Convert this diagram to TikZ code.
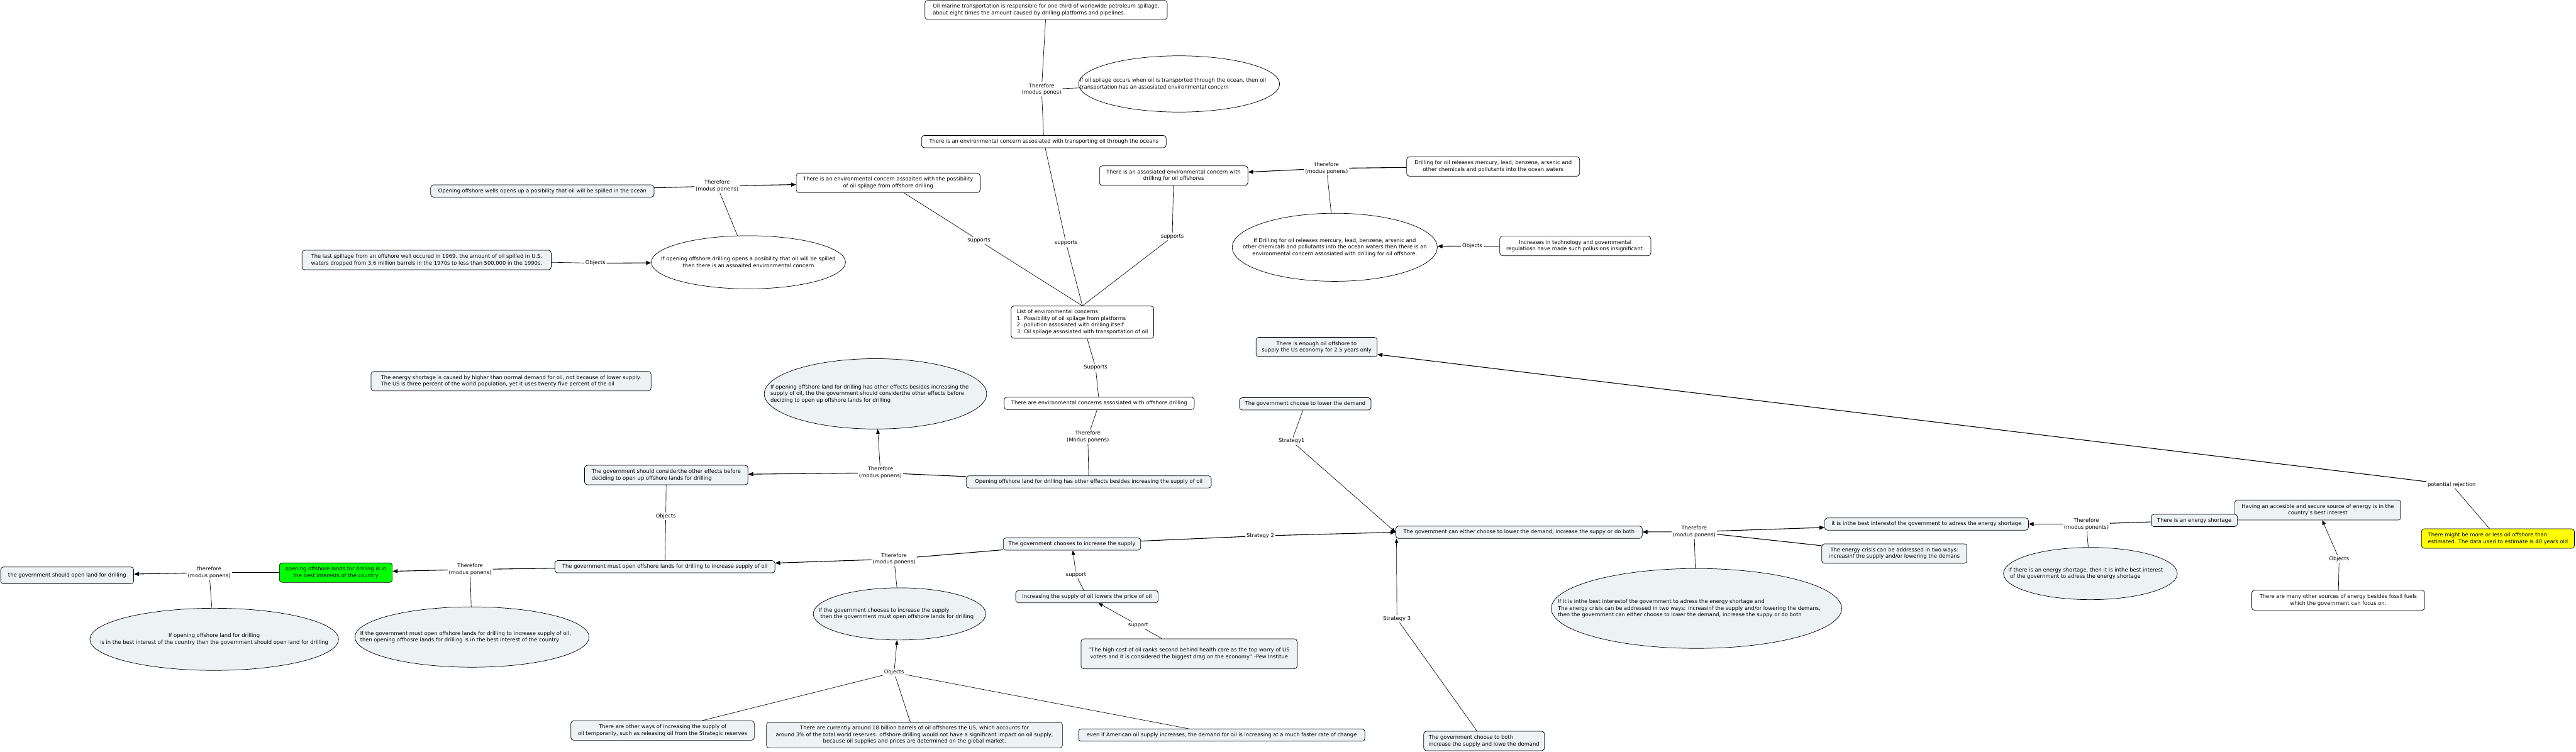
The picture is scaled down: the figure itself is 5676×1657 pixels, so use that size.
\documentclass[tikz,border=0pt]{standalone}
\usepackage{fontspec}
\setmainfont{DejaVu Sans}
\usetikzlibrary{arrows.meta,shapes.geometric}
\definecolor{lightfill}{HTML}{EDF3F5}
\definecolor{greenfill}{HTML}{00FF00}
\definecolor{yellowfill}{HTML}{FFFF00}
\tikzset{
  base/.style={font=\fontsize{11.6}{14.6}\selectfont},
  box/.style={base, draw=black, line width=1pt, rounded corners=6pt, inner sep=0pt, align=center},
  wbox/.style={box, fill=white},
  lbox/.style={box, fill=lightfill},
  sz/.style 2 args={minimum width=#1pt, minimum height=#2pt},
  ell/.style={draw=black, line width=1pt, ellipse, inner sep=0pt},
  etext/.style={base, align=left, anchor=west, inner sep=0pt},
  ctext/.style={base, align=center, inner sep=0pt},
  lab/.style={base, align=center, inner sep=2.5pt},
  conn/.style={line width=0.9pt},
  tconn/.style={line width=1.5pt},
  arr/.style={conn, -{Triangle[length=10pt,width=8pt]}},
  tarr/.style={tconn, -{Triangle[length=11pt,width=9pt]}},
}
\begin{document}
\begin{tikzpicture}[x=1pt,y=-1pt]
\useasboundingbox (0,0) rectangle (5676,1657);
\fill[white] (0,0) rectangle (5676,1657);

% ---------- top area ----------
\node[wbox, sz={534}{42}, align=left] (oilmarine) at (2305,22) {Oil marine transportation is responsible for one-third of worldwide petroleum spillage,\\ about eight times the amount caused by drilling platforms and pipelines.};
\node[ell, fill=white, sz={443}{124}] (ifoilspill) at (2598,185) {};
\node[etext] (ifoilspill-t) at ([xshift=3pt]ifoilspill.west) {If oil spilage occurs when oil is transported through the ocean, then oil\\transportation has an assosiated environmental concern};
\node[lab] (t1) at (2295,197) {Therefore\\(modus pones)};
\node[wbox, sz={539}{27}] (transport) at (2300,312) {There is an environmental concern assosiated with transporting oil through the oceans};

\node[lbox, sz={492}{27}] (openwells) at (1195,421) {Opening offshore wells opens up a posibility that oil will be spilled in the ocean};
\node[lab] (t2) at (1580,410) {Therefore\\(modus ponens)};
\node[wbox, sz={405}{43}] (concposs) at (1957,403) {There is an environmental concern assoaited with the possibility\\of oil spilage from offshore drilling};
\node[ell, fill=white, sz={428}{117}] (ifopendrill) at (1649,578) {};
\node[ctext] (ifopendrill-t) at (ifopendrill) {If opening offshore drilling opens a posibility that oil will be spilled\\then there is an assoaited environmental concern};
\node[lbox, sz={549}{43}, align=left] (lastspill) at (940,573) {The last spillage from an offshore well occured in 1969. the amount of oil spilled in U.S.\\waters dropped from 3.6 million barrels in the 1970s to less than 500,000 in the 1990s.};
\node[lab] (o1) at (1312,580) {Objects};

\node[wbox, sz={327}{43}] (assoc) at (2586,387) {There is an assosiated environmental concern with\\drilling for oil offshores};
\node[lab] (t3) at (2923,371) {therefore\\(modus ponens)};
\node[wbox, sz={381}{43}] (drillrel) at (3290,367) {Drilling for oil releases mercury, lead, benzene, arsenic and\\other chemicals and pollutants into the ocean waters};
\node[ell, fill=white, sz={452}{150}] (ifdrill) at (2941,545) {};
\node[ctext] (ifdrill-t) at (ifdrill) {If Drilling for oil releases mercury, lead, benzene, arsenic and\\other chemicals and pollutants into the ocean waters then there is an\\environmental concern assosiated with drilling for oil offshore.};
\node[lab] (o2) at (3244,542) {Objects};
\node[wbox, sz={333}{43}] (tech) at (3471,542) {Increases in technology and governmental\\regulatiosn have made such pollusions insignificant.};

\node[lab] (s1) at (2157,530) {supports};
\node[lab] (s2) at (2349,536) {supports};
\node[lab] (s3) at (2583,522) {supports};
\node[wbox, sz={314}{71}, align=left] (list) at (2385,710) {List of environmental concerns:\\1. Possibility of oil spilage from platforms\\2. pollution assosiated with drilling itself\\3. Oil spilage assosiated with transportation of oil};
\node[lab] (sup) at (2414,810) {Supports};
\node[wbox, sz={419}{27}] (envconc) at (2422,889) {There are environmental concerns assosiated with offshore drilling};
\node[lab] (t4) at (2397,963) {Therefore\\(Modus ponens)};
\node[lbox, sz={540}{27}] (otheff) at (2399,1062) {Opening offshore land for drilling has other effects besides increasing the supply of oil};
\node[lab] (t5) at (1940,1042) {Therefore\\(modus ponens)};
\node[ell, fill=lightfill, sz={490}{155}] (ifotheff) at (1929,868) {};
\node[etext] (ifotheff-t) at ([xshift=14pt]ifotheff.west) {If opening offshore land for drilling has other effects besides increasing the\\supply of oil, the the government should considerthe other effects before\\deciding to open up offshore lands for drilling};
\node[lbox, sz={360}{43}, align=left] (consider) at (1468,1047) {The government should considerthe other effects before\\deciding to open up offshore lands for drilling};
\node[lbox, sz={617}{43}, align=left] (shortcause) at (1126,840) {The energy shortage is caused by higher than normal demand for oil, not because of lower supply.\\The US is three percent of the world population, yet it uses twenty five percent of the oil};

% ---------- bottom left ----------
\node[lab] (o3) at (1467,1138) {Objects};
\node[lbox, sz={485}{27}] (mustopen) at (1465,1249) {The government must open offshore lands for drilling to increase supply of oil};
\node[lab] (t6) at (1036,1255) {Therefore\\(modus ponens)};
\node[box, fill=greenfill, sz={249}{43}] (green) at (740,1262) {opening offshore lands for drilling is in\\the best interests of the country};
\node[lab] (t7) at (461,1262) {therefore\\(modus ponens)};
\node[lbox, sz={293}{37}] (shouldopen) at (148,1268) {the government should open land for drilling};
\node[ell, fill=lightfill, sz={548}{137}] (ifbest) at (472,1409) {};
\node[ctext] (ifbest-t) at (ifbest) {If opening offshore land for drilling\\is in the best interest of the country then the government should open land for drilling};
\node[ell, fill=lightfill, sz={516}{133}] (ifmust) at (1040,1404) {};
\node[etext] (ifmust-t) at ([xshift=12pt]ifmust.west) {If the government must open offshore lands for drilling to increase supply of oil,\\then opening offhosre lands for drilling is in the best interest of the country};
\node[lbox, sz={404}{43}] (otherways) at (1460,1610) {There are other ways of increasing the supply of\\oil temporarily, such as releasing oil from the Strategic reserves};

% ---------- bottom middle ----------
\node[lbox, sz={303}{27}] (incsupply) at (2362,1199) {The government chooses to increase the supply};
\node[lab] (t8) at (1970,1232) {Therefore\\(modus ponens)};
\node[ell, fill=lightfill, sz={380}{115}] (ifchoose) at (1982,1353) {};
\node[etext] (ifchoose-t) at ([xshift=12pt]ifchoose.west) {If the government chooses to increase the supply\\\ then the government must open offshore lands for drilling};
\node[lab] (o4) at (1970,1482) {Objects};
\node[lbox, sz={652}{57}] (currently) at (2015,1620) {There are currently around 18 billion barrels of oil offshores the US, which accounts for\\around 3\% of the total world reserves. offshore drilling would not have a significant impact on oil supply,\\because oil supplies and prices are determined on the global market.};
\node[lbox, sz={631}{27}] (evenif) at (2692,1620) {even if American oil supply increases, the demand for oil is increasing at a much faster rate of change};
\node[lbox, sz={314}{27}] (lowers) at (2395,1315) {Increasing the supply of oil lowers the price of oil};
\node[lab] (sp1) at (2371,1267) {support};
\node[lab] (sp2) at (2508,1378) {support};
\node[lbox, sz={476}{66}] (highcost) at (2620,1441) {"The high cost of oil ranks second behind health care as the top worry of US\\voters and it is considered the biggest drag on the economy" -Pew Institue};

% ---------- strategies ----------
\node[lab] (st2) at (2777,1181) {Strategy 2};
\node[lbox, sz={543}{27}] (either) at (3347,1173) {The government can either choose to lower the demand, increase the suppy or do both};
\node[lab] (st3) at (3078,1364) {Strategy 3};
\node[lbox, sz={266}{43}, align=left] (both) at (3270,1633) {The government choose to both\\increase the supply and lowe the demand};
\node[lab] (st1) at (2846,972) {Strategy1};
\node[lbox, sz={290}{27}] (lower) at (2876,890) {The government choose to lower the demand};
\node[lbox, sz={267}{43}] (enough) at (2901,765) {There is enough oil offshore to\\supply the Us economy for 2.5 years only};

% ---------- right ----------
\node[lab] (t9) at (3733,1172) {Therefore\\(modus ponens)};
\node[lbox, sz={449}{27}] (bestint) at (4245,1155) {it is inthe best interestof the government to adress the energy shortage};
\node[lbox, sz={320}{43}] (crisis) at (4174,1220) {The energy crisis can be addressed in two ways:\\increasinf the supply and/or lowering the demans};
\node[ell, fill=lightfill, sz={640}{176}] (ifit) at (3738,1341) {};
\node[etext] (ifit-t) at ([xshift=15pt]ifit.west) {If it is inthe best interestof the government to adress the energy shortage and\\The energy crisis can be addressed in two ways: increasinf the supply and/or lowering the demans,\\then the government can either choose to lower the demand, increase the suppy or do both};
\node[lab] (t10) at (4597,1155) {Therefore\\(modus ponents)};
\node[lbox, sz={366}{44}] (having) at (5107,1124) {Having an accesible and secure source of energy is in the\\country's best interest};
\node[lbox, sz={190}{27}] (shortage) at (4835,1147) {There is an energy shortage};
\node[lab] (o5) at (5154,1232) {Objects};
\node[wbox, sz={381}{44}] (sources) at (5152,1323) {There are many other sources of energy besides fossil fuels\\which the government can focus on.};
\node[ell, fill=lightfill, sz={383}{115}] (ifthere) at (4606,1264) {};
\node[etext] (ifthere-t) at ([xshift=11pt]ifthere.west) {If there is an energy shortage, then it is inthe best interest\\\ of the government to adress the energy shortage};
\node[box, fill=yellowfill, sz={337}{43}, align=left] (yellow) at (5504,1187) {There might be more  or less oil offshore than\\estimated.  The data used to estimate is 40 years old};
\node[lab] (pr) at (5402,1068) {potential rejection};

% ---------- connectors ----------
\draw[conn] (oilmarine) -- (t1);
\draw[conn] (ifoilspill) -- (t1);
\draw[conn] (t1) -- (transport);
\draw[tconn] (openwells) -- (t2);
\draw[tarr] (t2) -- (concposs);
\draw[conn] (t2) -- (ifopendrill);
\draw[conn] (lastspill) -- (o1);
\draw[tarr] (o1) -- (ifopendrill);
\draw[conn] (concposs) -- (s1);
\draw[conn] (s1) -- (list.north);
\draw[conn] (transport) -- (s2);
\draw[conn] (s2) -- (list.north);
\draw[conn] (assoc) -- (s3);
\draw[conn] (s3) -- (list.north);
\draw[tconn] (drillrel) -- (t3);
\draw[tarr] (t3) -- (assoc);
\draw[conn] (t3) -- (ifdrill);
\draw[tconn] (tech) -- (o2);
\draw[tarr] (o2) -- (ifdrill);
\draw[conn] (list) -- (sup);
\draw[conn] (sup) -- (envconc);
\draw[conn] (envconc) -- (t4);
\draw[conn] (t4) -- (otheff);
\draw[tconn] (otheff) -- (t5);
\draw[tarr] (t5) -- (consider);
\draw[arr] (t5) -- (ifotheff);
\draw[conn] (consider) -- (o3);
\draw[conn] (o3) -- (mustopen);
\draw[tconn] (incsupply) -- (t8);
\draw[tarr] (t8) -- (mustopen);
\draw[conn] (t8) -- (ifchoose);
\draw[conn] (otherways) -- (o4);
\draw[conn] (currently) -- (o4);
\draw[conn] (evenif) -- (o4);
\draw[arr] (o4) -- (ifchoose);
\draw[tconn] (mustopen) -- (t6);
\draw[tarr] (t6) -- (green);
\draw[conn] (t6) -- (ifmust);
\draw[tconn] (green) -- (t7);
\draw[tarr] (t7) -- (shouldopen);
\draw[conn] (t7) -- (ifbest);
\draw[conn] (lowers) -- (sp1);
\draw[arr] (sp1) -- (incsupply);
\draw[conn] (highcost) -- (sp2);
\draw[arr] (sp2) -- (lowers);
\draw[tconn] (incsupply) -- (st2);
\draw[tarr] (st2) -- (either.west);
\draw[conn] (lower) -- (st1);
\draw[arr] (st1) -- (either.west);
\draw[conn] (both) -- (st3);
\draw[arr] (st3) -- ([xshift=2pt]either.south west);
\draw[tarr] (t9) -- (either);
\draw[tarr] (t9) -- (bestint);
\draw[tconn] (t9) -- (crisis);
\draw[conn] (t9) -- (ifit);
\draw[tconn] (shortage) -- (t10);
\draw[tarr] (t10) -- (bestint);
\draw[conn] (t10) -- (ifthere);
\draw[conn] (sources) -- (o5);
\draw[arr] (o5) -- (having);
\draw[conn] (yellow) -- (pr);
\draw[tarr] (pr) -- (enough);
\end{tikzpicture}
\end{document}
